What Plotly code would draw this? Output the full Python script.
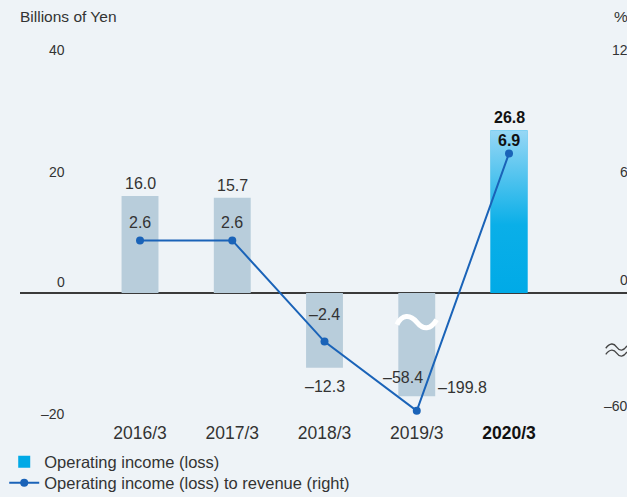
import plotly.graph_objects as go

# ---------------- data ----------------
categories = ["2016/3", "2017/3", "2018/3", "2019/3", "2020/3"]
operating_income = [16.0, 15.7, -12.3, -58.4, 26.8]          # billions of yen (left)
income_to_revenue = [2.6, 2.6, -2.4, -199.8, 6.9]             # % (right)
left_ticks = [-20, 0, 20, 40]
right_ticks = [-60, 0, 6, 12]

# ---------------- scale helpers (broken axes) ----------------
LEFT_MIN = -20.0
RIGHT_PER_LEFT = 12 / 40           # right axis: 12 % <-> 40 on the left axis
BAR_BREAK_DISPLAY = -17.0          # truncated display of an off-scale bar
LINE_BREAK_DISPLAY = -19.4         # truncated display of an off-scale point
RIGHT_BREAK_TICK_DISPLAY = -18.6   # where the "-60" tick sits below the break


def bar_disp(v):
    return v if v >= LEFT_MIN else BAR_BREAK_DISPLAY


def pct_disp(p):
    d = p / RIGHT_PER_LEFT
    return d if d >= LEFT_MIN else LINE_BREAK_DISPLAY


def right_tick_disp(p):
    d = p / RIGHT_PER_LEFT
    return d if d >= LEFT_MIN else RIGHT_BREAK_TICK_DISPLAY


def fmt(v):
    s = f"{abs(v):.1f}"
    return ("\u2013" + s) if v < 0 else s


x_idx = list(range(len(categories)))
BAR_W = 0.40
HIGHLIGHT = len(categories) - 1

# ---------------- style ----------------
BG = "#EEF3F7"
BAR_GRAY = "#B8CDDB"
CYAN = "#00A9E6"
LINE_BLUE = "#1A63B8"
TXT = "#333333"
FONT = "Liberation Sans, Arial, sans-serif"

fig = go.Figure()

# gray bars (not highlighted)
fig.add_trace(go.Bar(
    x=[x_idx[i] for i in range(HIGHLIGHT)],
    y=[bar_disp(v) for v in operating_income[:HIGHLIGHT]],
    width=BAR_W, marker=dict(color=BAR_GRAY, line=dict(width=0)),
    showlegend=False, hoverinfo="skip",
))
# highlighted bar (legend entry)
fig.add_trace(go.Bar(
    x=[x_idx[HIGHLIGHT]], y=[bar_disp(operating_income[HIGHLIGHT])],
    width=BAR_W, marker=dict(color=CYAN, line=dict(width=0)),
    name="Operating income (loss)", legend="legend",
))
# gradient overlay on highlighted bar
xh = x_idx[HIGHLIGHT]
yh = bar_disp(operating_income[HIGHLIGHT])
fig.add_trace(go.Scatter(
    x=[xh - BAR_W / 2, xh + BAR_W / 2, xh + BAR_W / 2, xh - BAR_W / 2, xh - BAR_W / 2],
    y=[0, 0, yh, yh, 0],
    mode="lines", line=dict(width=0), fill="toself",
    fillgradient=dict(type="vertical",
                      colorscale=[[0, "#00AAE7"], [0.42, "#0AAFE8"], [1, "#97D7F5"]]),
    showlegend=False, hoverinfo="skip",
))
# ratio line
fig.add_trace(go.Scatter(
    x=x_idx, y=[pct_disp(p) for p in income_to_revenue],
    mode="lines+markers",
    line=dict(color=LINE_BLUE, width=2),
    marker=dict(color=LINE_BLUE, size=8),
    name="Operating income (loss) to revenue (right)", legend="legend2",
))

annotations = []
# bar value labels
bar_label_shift = [(0, 12), (0, 12), (0, -19), (-14, 19), (0, 13)]
for i, v in enumerate(operating_income):
    dx, dy = bar_label_shift[i]
    bold = i == HIGHLIGHT
    annotations.append(dict(
        x=x_idx[i], y=bar_disp(v), xref="x", yref="y",
        text=(f"<b>{fmt(v)}</b>" if bold else fmt(v)),
        showarrow=False, xshift=dx, yshift=dy,
        font=dict(size=16, color="#111111" if bold else TXT, family=FONT),
    ))
# line value labels
line_label_shift = [(0, 18), (0, 18), (0, 27), (46, 23), (0, 13)]
for i, p in enumerate(income_to_revenue):
    dx, dy = line_label_shift[i]
    bold = i == HIGHLIGHT
    annotations.append(dict(
        x=x_idx[i], y=pct_disp(p), xref="x", yref="y",
        text=(f"<b>{fmt(p)}</b>" if bold else fmt(p)),
        showarrow=False, xshift=dx, yshift=dy,
        font=dict(size=16, color="#111111" if bold else TXT, family=FONT),
    ))
# left tick labels
for t in left_ticks:
    annotations.append(dict(
        x=0.078, y=t, xref="paper", yref="y", xanchor="right",
        text=("\u2013" + str(abs(t)) if t < 0 else str(t)),
        showarrow=False, yshift=(11 if t == 0 else 0),
        font=dict(size=14, color=TXT, family=FONT),
    ))
# right tick labels
for t in right_ticks:
    annotations.append(dict(
        x=1.0, y=right_tick_disp(t), xref="paper", yref="y", xanchor="right",
        text=("\u2013" + str(abs(t)) if t < 0 else str(t)),
        showarrow=False, yshift=(13 if t == 0 else 0), xshift=3,
        font=dict(size=14, color=TXT, family=FONT),
    ))
# axis titles
annotations.append(dict(x=0, y=1.0, xref="paper", yref="paper", xanchor="left", yanchor="bottom",
                        text="Billions of Yen", showarrow=False, yshift=-7, xshift=-2,
                        font=dict(size=15.5, color=TXT, family=FONT)))
annotations.append(dict(x=1.0, y=1.0, xref="paper", yref="paper", xanchor="right", yanchor="bottom",
                        text="%", showarrow=False, yshift=-7, xshift=3,
                        font=dict(size=15.5, color=TXT, family=FONT)))

# break marks
shapes = []
xb = x_idx[3]
yb = -4.8
shapes.append(dict(
    type="path", xref="x", yref="y",
    path=(f"M {xb-0.215},{yb-0.4} C {xb-0.16},{yb+1.3} {xb-0.07},{yb+1.3} {xb},{yb} "
          f"S {xb+0.15},{yb-1.3} {xb+0.215},{yb+0.4}"),
    line=dict(color="white", width=5),
))
for off in (0.0, -1.0):
    y0 = -8.9 + off
    shapes.append(dict(
        type="path", xref="paper", yref="y",
        path=(f"M 0.965,{y0-0.2} C 0.972,{y0+0.7} 0.978,{y0+0.7} 0.983,{y0} "
              f"S 0.994,{y0-0.7} 1.0,{y0+0.2}"),
        line=dict(color="#444444", width=1.3),
    ))

legend_common = dict(xanchor="left", yanchor="middle", bgcolor="rgba(0,0,0,0)",
                     itemwidth=30, font=dict(size=16.5, color=TXT, family=FONT))

x0r = -1.301
x1r = 5.279
fig.update_layout(
    width=627, height=497,
    margin=dict(l=20, r=0, t=20, b=77, autoexpand=False),
    paper_bgcolor=BG, plot_bgcolor=BG,
    barmode="overlay",
    showlegend=True,
    legend=dict(x=-0.026, y=-0.105, **legend_common),
    legend2=dict(x=-0.026, y=-0.1575, **legend_common),
    xaxis=dict(range=[x0r, x1r], tickvals=x_idx,
               ticktext=[(f"<b><span style='color:#111'>{c}</span></b>" if i == HIGHLIGHT else c)
                         for i, c in enumerate(categories)],
               showgrid=False, zeroline=False, showline=False, ticks="",
               tickfont=dict(size=17.5, color=TXT, family=FONT), fixedrange=True),
    yaxis=dict(range=[-20.92, 44.98], showgrid=False, showticklabels=False,
               zeroline=True, zerolinecolor="#3A3A3A", zerolinewidth=1.5,
               showline=False, ticks="", fixedrange=True),
    annotations=annotations,
    shapes=shapes,
)

fig.write_html(
    "out.html",
    config={"displayModeBar": False},
    post_script="document.body.style.margin='0';document.body.style.overflow='hidden';",
)
